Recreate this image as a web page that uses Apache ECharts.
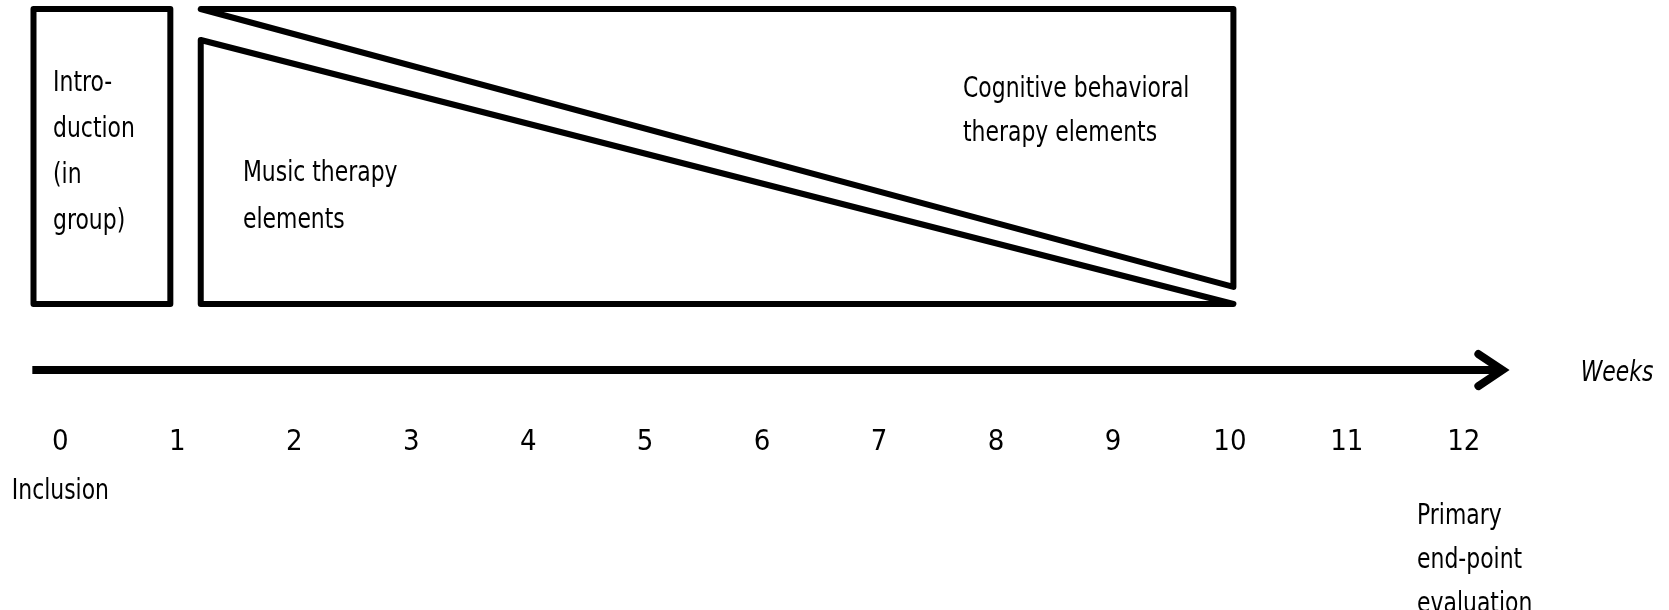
<!DOCTYPE html>
<html><head><meta charset="utf-8">
<script src="https://cdn.jsdelivr.net/npm/echarts@6/dist/echarts.min.js"></script>
<style>html,body{margin:0;padding:0;background:#fff}#main{width:1669px;height:610px}</style>
</head><body><div id="main"></div>
<script>
// ---- data (weeks on x, share of therapy band in % on y) ----
const weeks = [0,1,2,3,4,5,6,7,8,9,10,11,12];
const weekLabels = ['0','1','2','3','4','5','6','7','8','9','10','11','12'];
const introPhase = [-0.23, 0.94];      // introduction block, weeks
const therapyPhase = [1.2, 10.03];     // therapy block, weeks
const musicShare = [89.5, 0];          // % of band at start / end
const cbtShare = [0, 94.2];            // % of band at start / end
const timeline = [-0.24, 12.33];       // arrow span, weeks
const introText = 'Intro-\nduction\n(in\ngroup)';
const musicText = 'Music therapy\nelements';
const cbtText = 'Cognitive behavioral\ntherapy elements';
const startText = 'Inclusion';
const endText = 'Primary\nend-point\nevaluation';
const axisTitle = 'Weeks';

const FONT = '"Liberation Sans Narrow", "DejaVu Sans Condensed", "Open Sans", sans-serif';
const NARROW = 0.84;
const chart = echarts.init(document.getElementById('main'), null, {renderer: 'canvas'});

function txt(api, text, wk, lvl, opts) {
  const p = api.coord([wk, lvl]);
  return {
    type: 'text',
    x: p[0], y: p[1], scaleX: NARROW, scaleY: 1,
    style: Object.assign({
      text: text, x: 0, y: 0, fill: '#000',
      fontFamily: FONT, fontSize: 29, lineHeight: 46,
      align: 'left', verticalAlign: 'middle'
    }, opts || {})
  };
}

function renderItem(params, api) {
  const S = {stroke: '#000', fill: 'none', lineWidth: 6, lineJoin: 'round', lineCap: 'round'};
  const children = [];
  // introduction block
  const a = api.coord([introPhase[0], 100]), b = api.coord([introPhase[1], 0]);
  children.push({type: 'polygon', shape: {points: [a, [b[0], a[1]], b, [a[0], b[1]]]}, style: S});
  // CBT shape: top-left, top-right, bottom-right
  children.push({type: 'polygon', shape: {points: [
    api.coord([therapyPhase[0], 100]),
    api.coord([therapyPhase[1], 100]),
    api.coord([therapyPhase[1], 100 - cbtShare[1]]),
    api.coord([therapyPhase[0], 100 - cbtShare[0]])
  ]}, style: S});
  // Music shape
  children.push({type: 'polygon', shape: {points: [
    api.coord([therapyPhase[0], 0]),
    api.coord([therapyPhase[0], musicShare[0]]),
    api.coord([therapyPhase[1], musicShare[1]])
  ]}, style: S});
  // timeline arrow
  const lvl = -22.4;
  const s = api.coord([timeline[0], lvl]), e = api.coord([timeline[1], lvl]);
  children.push({type: 'line', shape: {x1: s[0], y1: s[1], x2: e[0] - 4, y2: e[1]},
    style: {stroke: '#000', lineWidth: 8, lineCap: 'butt'}});
  children.push({type: 'polyline', shape: {points: [[e[0] - 24, e[1] - 16], [e[0], e[1]], [e[0] - 24, e[1] + 16]]},
    style: {stroke: '#000', fill: 'none', lineWidth: 8, lineCap: 'round', lineJoin: 'miter'}});
  // texts
  children.push(txt(api, introText, -0.063, 51.5, {lineHeight: 46}));
  children.push(txt(api, musicText, 1.561, 36.4, {lineHeight: 47}));
  children.push(txt(api, cbtText, 7.718, 65.3, {lineHeight: 44}));
  children.push(txt(api, startText, weeks[0], -63.5, {align: 'center'}));
  children.push(txt(api, endText, 11.6, -86.8, {lineHeight: 44}));
  children.push(txt(api, axisTitle, 13.31, -23.4, {align: 'center', fontStyle: 'italic'}));
  return {type: 'group', children: children};
}

chart.setOption({
  backgroundColor: '#fff',
  animation: false,
  grid: {left: 60.4, right: 205.2, top: 9, bottom: 306},
  xAxis: {
    type: 'value', min: weeks[0], max: weeks[weeks.length - 1], interval: 1,
    offset: 120,
    axisLine: {show: false}, axisTick: {show: false}, splitLine: {show: false},
    axisLabel: {margin: 3.5, color: '#000', fontSize: 29, fontFamily: FONT,
      formatter: v => weekLabels[weeks.indexOf(v)] ?? ''}
  },
  yAxis: {type: 'value', min: 0, max: 100, show: false},
  series: [{type: 'custom', clip: false, renderItem: renderItem, data: [[0, 0]], silent: true}]
});
</script></body></html>
